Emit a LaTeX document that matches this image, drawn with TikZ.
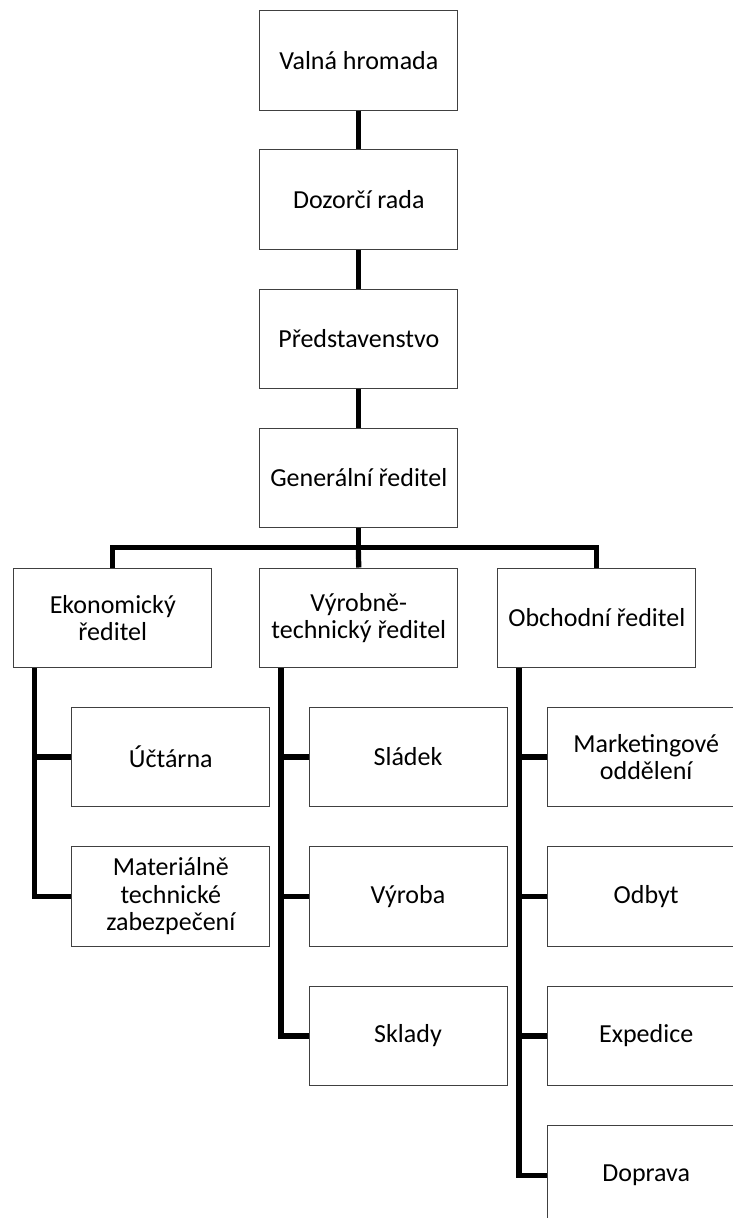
\documentclass[tikz,border=0pt]{standalone}
\usepackage{fontspec}
\setmainfont{Carlito}
\begin{document}
\begin{tikzpicture}[x=1pt,y=-1pt,
  box/.style={draw=black!75,line width=1pt,fill=white,rectangle,minimum width=198pt,minimum height=99.5pt,inner sep=0pt,anchor=north west,align=center,font=\fontsize{26}{27.3}\selectfont},
  conn/.style={line width=5.2pt,draw=black}]
\useasboundingbox (0,0) rectangle (733,1218);
\clip (0,0) rectangle (733,1218);
% top column
\node[box] (valna) at (259.3,10) {Valná hromada};
\node[box] (dozor) at (259.3,149.3) {Dozorčí rada};
\node[box] (pred) at (259.3,288.6) {Představenstvo};
\node[box] (gen) at (259.3,427.5) {Generální ředitel};
% level 2
\node[box] (ekon) at (13.3,567.5) {Ekonomický\\ředitel};
\node[box] (vyr) at (259.3,567.5) {Výrobně-\\technický ředitel};
\node[box] (obch) at (497.3,567.5) {Obchodní ředitel};
% children
\node[box] (uct) at (71.3,706.7) {Účtárna};
\node[box] (mat) at (71.3,846) {Materiálně\\technické\\zabezpečení};
\node[box] (slad) at (308.5,706.7) {Sládek};
\node[box] (vyroba) at (308.5,846) {Výroba};
\node[box] (sklady) at (308.5,985.7) {Sklady};
\node[box] (mark) at (546.7,706.7) {Marketingové\\oddělení};
\node[box] (odbyt) at (546.7,846) {Odbyt};
\node[box] (exped) at (546.7,985.7) {Expedice};
\node[box] (doprava) at (546.7,1125) {Doprava};
\coordinate (bus) at (358.3,547.5);
% connectors
\draw[conn] (valna.south) -- (dozor.north);
\draw[conn] (dozor.south) -- (pred.north);
\draw[conn] (pred.south) -- (gen.north);
\draw[conn] (gen.south) -- (gen.south |- bus);
\draw[conn] (ekon.north) |- (bus) -| (obch.north);
\draw[conn] (bus) -- (vyr.north);
\draw[conn] ([xshift=21.2pt]ekon.south west) |- (uct.west);
\draw[conn] ([xshift=21.2pt]ekon.south west) |- (mat.west);
\draw[conn] ([xshift=21.7pt]vyr.south west) |- (slad.west);
\draw[conn] ([xshift=21.7pt]vyr.south west) |- (vyroba.west);
\draw[conn] ([xshift=21.7pt]vyr.south west) |- (sklady.west);
\draw[conn] ([xshift=21.7pt]obch.south west) |- (mark.west);
\draw[conn] ([xshift=21.7pt]obch.south west) |- (odbyt.west);
\draw[conn] ([xshift=21.7pt]obch.south west) |- (exped.west);
\draw[conn] ([xshift=21.7pt]obch.south west) |- (doprava.west);
\end{tikzpicture}
\end{document}
